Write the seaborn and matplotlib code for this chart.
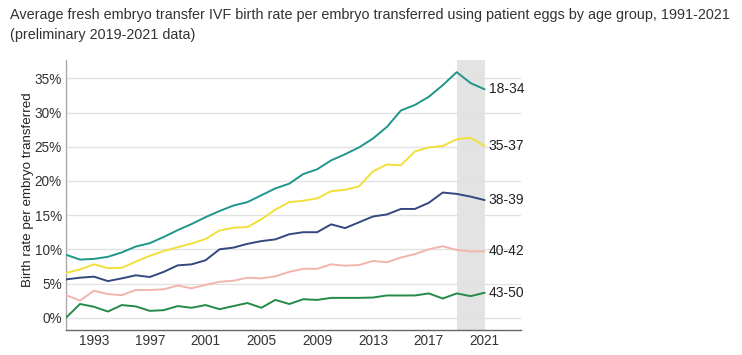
import numpy as np
import pandas as pd
import matplotlib
matplotlib.use("Agg")
import matplotlib.pyplot as plt
import seaborn as sns

years = list(range(1991, 2022))
age_groups = ['18-34', '35-37', '38-39', '40-42', '43-50']

rate_18_34 = [9.2, 8.5, 8.6, 8.9, 9.55, 10.4, 10.9, 11.8, 12.8, 13.7, 14.7, 15.6, 16.4, 16.9, 17.9,
              18.9, 19.6, 21.0, 21.7, 23.0, 23.9, 24.9, 26.2, 27.9, 30.3, 31.1, 32.3, 34.0, 35.9, 34.3, 33.4]
rate_35_37 = [6.55, 7.05, 7.8, 7.25, 7.3, 8.2, 9.05, 9.75, 10.3, 10.85, 11.5, 12.75, 13.15, 13.25, 14.4,
              15.8, 16.9, 17.1, 17.45, 18.5, 18.7, 19.2, 21.4, 22.4, 22.3, 24.3, 24.9, 25.1, 26.1, 26.3, 25.1]
rate_38_39 = [5.6, 5.85, 6.0, 5.35, 5.75, 6.2, 5.95, 6.7, 7.65, 7.8, 8.4, 10.0, 10.25, 10.8, 11.2,
              11.45, 12.2, 12.5, 12.5, 13.65, 13.1, 13.95, 14.8, 15.1, 15.9, 15.9, 16.8, 18.3, 18.1, 17.7, 17.2]
rate_40_42 = [3.3, 2.5, 3.95, 3.45, 3.3, 4.05, 4.05, 4.15, 4.7, 4.3, 4.8, 5.25, 5.4, 5.85, 5.75,
              6.05, 6.7, 7.15, 7.15, 7.8, 7.6, 7.7, 8.3, 8.1, 8.8, 9.3, 10.0, 10.45, 9.9, 9.7, 9.7]
rate_43_50 = [0.0, 2.0, 1.6, 0.9, 1.85, 1.65, 1.0, 1.1, 1.7, 1.45, 1.85, 1.25, 1.7, 2.15, 1.45,
              2.6, 2.0, 2.7, 2.6, 2.9, 2.9, 2.9, 2.95, 3.25, 3.25, 3.25, 3.55, 2.8, 3.55, 3.15, 3.65]

colors = {'18-34': '#1f968b', '35-37': '#f3df3a', '38-39': '#34487f',
          '40-42': '#f2b5ae', '43-50': '#238b45'}

series = [rate_18_34, rate_35_37, rate_38_39, rate_40_42, rate_43_50]
df = pd.concat([pd.DataFrame({'year': years, 'rate': vals, 'age': name})
                for name, vals in zip(age_groups, series)], ignore_index=True)

sns.set_style('white')
plt.rcParams['font.family'] = ['Liberation Sans', 'DejaVu Sans']

fig = plt.figure(figsize=(7.42, 3.55), dpi=100)
ax = fig.add_axes([0.089, 0.0704, 0.613, 0.761])

# preliminary data band
ax.axvspan(2019, 2021, color='#e3e3e3', lw=0, zorder=0)

sns.lineplot(data=df, x='year', y='rate', hue='age', palette=colors,
             linewidth=1.4, legend=False, ax=ax, zorder=3)

for name, vals in zip(age_groups, series):
    ax.text(2021.3, vals[-1], name, fontsize=10, va='center', ha='left', color='#222222')

ax.set_xlim(1991, 2023.6)
ax.set_ylim(-1.8, 37.7)
ax.set_xticks([1993, 1997, 2001, 2005, 2009, 2013, 2017, 2021])
ax.set_yticks(range(0, 36, 5))
ax.set_yticklabels([f'{v}%' for v in range(0, 36, 5)])
ax.yaxis.grid(True, color='#e2e2e2', linewidth=1)
ax.set_axisbelow(True)
ax.tick_params(axis='both', length=0, labelsize=9.8, colors='#333333', pad=3)
ax.set_xlabel('')
ax.set_ylabel('Birth rate per embryo transferred', fontsize=9.6, color='#222222')
ax.yaxis.set_label_coords(-0.07, 0.52)

for s in ['top', 'right']:
    ax.spines[s].set_visible(False)
ax.spines['left'].set_color('#aaaaaa')
ax.spines['left'].set_linewidth(1)
ax.spines['bottom'].set_color('#666666')
ax.spines['bottom'].set_linewidth(1)

fig.text(0.013, 0.957, 'Average fresh embryo transfer IVF birth rate per embryo transferred using patient eggs by age group, 1991-2021',
         fontsize=10.4, color='#333333', va='center', ha='left')
fig.text(0.013, 0.9, '(preliminary 2019-2021 data)', fontsize=10.4, color='#333333', va='center', ha='left')

fig.savefig('out.png', dpi=100)
